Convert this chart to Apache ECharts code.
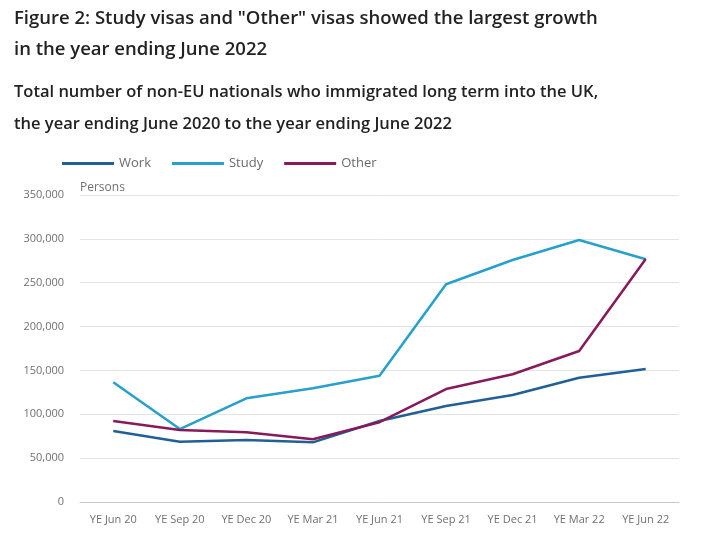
<!DOCTYPE html>
<html><head><meta charset="utf-8">
<script src="https://cdn.jsdelivr.net/npm/echarts@6/dist/echarts.min.js"></script>
<style>html,body{margin:0;padding:0;background:#fff}#c{width:701px;height:541px}</style>
</head><body><div id="c"></div>
<script>
const categories = ['YE Jun 20','YE Sep 20','YE Dec 20','YE Mar 21','YE Jun 21','YE Sep 21','YE Dec 21','YE Mar 22','YE Jun 22'];
const work  = [81000, 68700, 70700, 68000, 92300, 109500, 122000, 141700, 151600];
const study = [136500, 83200, 118200, 129600, 144000, 248200, 275900, 298700, 276700];
const other = [92300, 82100, 79400, 71500, 91000, 128800, 145600, 172100, 277000];
const yTicks = [0, 50000, 100000, 150000, 200000, 250000, 300000, 350000];

const font = '"Open Sans", sans-serif';
const chart = echarts.init(document.getElementById('c'), null, {renderer: 'canvas'});
function line(name, data, color) {
  return {name, type: 'line', data, symbol: 'none', lineStyle: {width: 2.5, color}, itemStyle: {color}};
}
chart.setOption({
  animation: false,
  textStyle: {fontFamily: font},
  title: [
    {text: 'Figure 2: Study visas and "Other" visas showed the largest growth\nin the year ending June 2022',
     left: 14, top: 3, padding: 0,
     textStyle: {fontFamily: font, fontSize: 18.5, fontWeight: 600, color: '#222', lineHeight: 31}},
    {text: 'Total number of non-EU nationals who immigrated long term into the UK,\nthe year ending June 2020 to the year ending June 2022',
     left: 14, top: 76, padding: 0,
     textStyle: {fontFamily: font, fontSize: 16.5, fontWeight: 600, color: '#222', lineHeight: 32}}
  ],
  legend: {
    left: 62, top: 157, padding: 0, icon: 'rect', itemWidth: 52, itemHeight: 3, itemGap: 21,
    textStyle: {fontFamily: font, fontSize: 13, color: '#6a6a6a'},
    data: ['Work', 'Study', 'Other']
  },
  grid: {left: 80, right: 22, top: 195, bottom: 39, containLabel: false},
  xAxis: {
    type: 'category', data: categories, boundaryGap: true,
    axisLine: {lineStyle: {color: '#c8c8c8'}},
    axisTick: {alignWithLabel: true, length: 5, lineStyle: {color: '#c8c8c8'}},
    axisLabel: {fontFamily: font, fontSize: 11, color: '#707070', margin: 12, interval: 0}
  },
  yAxis: {
    type: 'value', min: yTicks[0], max: yTicks[yTicks.length - 1], interval: yTicks[1] - yTicks[0],
    name: 'Persons', nameLocation: 'end', nameGap: 1,
    nameTextStyle: {fontFamily: font, fontSize: 12, color: '#707070', align: 'left'},
    axisLine: {show: false}, axisTick: {show: false},
    splitLine: {lineStyle: {color: '#e4e4e4'}},
    axisLabel: {fontFamily: font, fontSize: 11, color: '#707070', margin: 16,
      formatter: v => v.toLocaleString('en-GB')}
  },
  series: [
    line('Work', work, '#206095'),
    line('Study', study, '#27a0cc'),
    line('Other', other, '#871a5b')
  ]
});
</script></body></html>
